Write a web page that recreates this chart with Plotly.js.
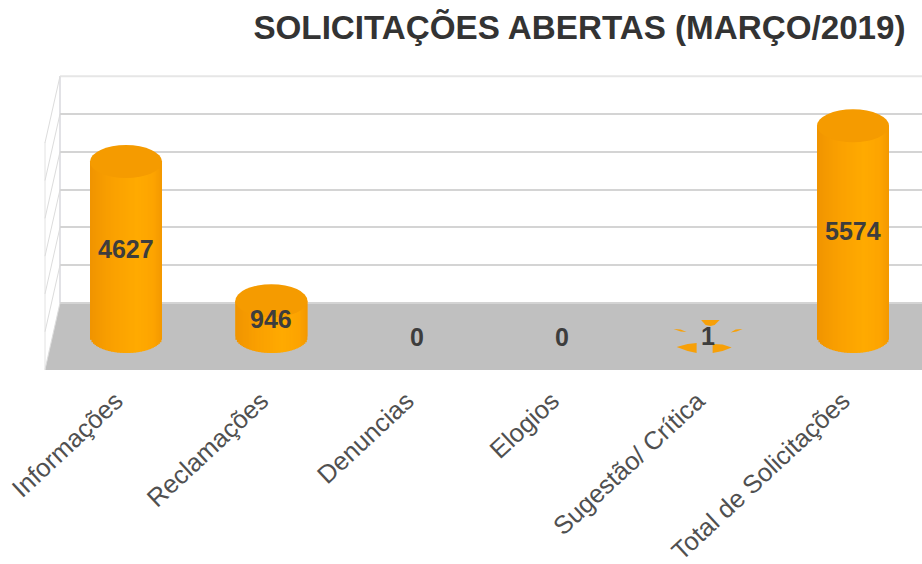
<!DOCTYPE html>
<html><head><meta charset="utf-8">
<script src="https://cdn.plot.ly/plotly-3.0.1.min.js"></script>
<style>html,body{margin:0;padding:0;background:#fff}#c{width:922px;height:564px}</style></head>
<body><div id="c"></div>
<script>
const categories = ["Informações","Reclamações","Denuncias","Elogios","Sugestão/ Crítica","Total de Solicitações"];
const values = [4627,946,0,0,1,5574];
const wallLevels = [0,1000,2000,3000,4000,5000,6000];
const chartTitle = "SOLICITAÇÕES ABERTAS (MARÇO/2019)";

const W=922,H=564,L=60,T=70,B=184;
const pxPerUnit=0.0378, pxPerCat=145.4, firstCatPx=126, zeroPx=336.5;
const plotH=H-T-B, plotW=W-L;
const yTop=(zeroPx-T)/pxPerUnit, yBot=-(T+plotH-zeroPx)/pxPerUnit;
const xLow=(L-firstCatPx)/pxPerCat, xHigh=(W-firstCatPx)/pxPerCat;
const rx=36/pxPerCat, ry=16.5/pxPerUnit;
const wallOffset=(zeroPx-303)/pxPerUnit;
const px=v=>(v-L)/plotW, py=v=>1-(v-T)/plotH;
const font="'Liberation Sans',Arial,sans-serif";

// cylinder shading, left to right
const stops=[[0,[240,148,0]],[0.3,[250,160,0]],[0.65,[255,170,0]],[0.88,[253,164,0]],[1,[243,152,0]]];
function shade(t){
  for(let k=1;k<stops.length;k++){
    if(t<=stops[k][0]){
      const a=stops[k-1],b=stops[k],f=(t-a[0])/(b[0]-a[0]);
      return "rgb("+a[1].map((c,j)=>Math.round(c+(b[1][j]-c)*f)).join(",")+")";
    }
  }
  return "rgb(243,152,0)";
}
const idx=categories.map((_,i)=>i);
const traces=[{type:"bar",x:idx,y:values,width:2*rx,marker:{color:"#fa9f00",line:{width:0}},hoverinfo:"skip",showlegend:false}];
const N=48, sw=2*rx/N;
for(let s=0;s<N;s++){
  const u=(-1+(2*s+1)/N), drop=ry*Math.sqrt(Math.max(0,1-u*u));
  traces.push({type:"bar",x:idx,
    y:values.map(v=>v>1?v+drop:null),
    base:values.map(()=>-drop),
    offset:-rx+s*sw, width:sw*(s<N-1?1.6:1),
    marker:{color:shade((s+0.5)/N),line:{width:0}},hoverinfo:"skip",showlegend:false});
}

// small leftovers of the flat cylinder around the "1" label, in pixels from its centre
const crumbs=[
 [[-6.5,-16.5],[12,-16.5],[7,-11.5],[3,-10.5],[-2,-11.5]],
 [[-34,-7.5],[-27,-7],[-21,-4.5],[-27,-5]],
 [[35,-7.5],[28,-7],[23,-4],[29,-5]],
 [[-31,10.5],[-20,7.5],[-11,6.5],[-11,16.5],[-20,14.5]],
 [[24,11],[15,8],[5,7.5],[5,16.5],[15,14.5]]
];
const crumbIndex=values.indexOf(1);
const crumbShapes=crumbs.map(c=>({type:"path",xref:"x",yref:"y",layer:"above",fillcolor:"#f7a008",line:{width:0},
  path:c.map((p,k)=>(k?"L":"M")+(crumbIndex+p[0]/pxPerCat)+","+(-p[1]/pxPerUnit)).join(" ")+" Z"}));

const gridCol="#d4d4d4";
const shapes=[
 {type:"path",xref:"paper",yref:"paper",layer:"between",fillcolor:"#c0c0c0",line:{width:0},
  path:`M${px(60)},${py(303)} L${px(922)},${py(303)} L${px(922)},${py(370)} L${px(45)},${py(370)} Z`},
 {type:"line",xref:"paper",yref:"paper",layer:"below",x0:px(60),x1:px(60),y0:py(76),y1:py(303),line:{color:"#d8d8de",width:1.5}},
 {type:"line",xref:"paper",yref:"paper",layer:"below",x0:px(45),x1:px(45),y0:py(142),y1:py(370),line:{color:"#e2e2e2",width:1}},
 {type:"line",xref:"paper",yref:"paper",layer:"between",x0:px(60),x1:px(922),y0:py(76.2),y1:py(76.2),line:{color:"#e6e6e6",width:2}}
];
wallLevels.forEach(v=>{
  const y=zeroPx-(v+wallOffset)*pxPerUnit;
  shapes.push({type:"line",xref:"paper",yref:"paper",layer:"below",x0:px(60),x1:px(45),y0:py(y),y1:py(y+66.5),line:{color:"#dcdcdc",width:1}});
});
values.forEach((v,i)=>{
  if(v>1) shapes.push({type:"circle",xref:"x",yref:"y",layer:"above",x0:i-rx,x1:i+rx,y0:v-ry,y1:v+ry,fillcolor:"#f59b00",line:{width:0}});
});
crumbShapes.forEach(c=>shapes.push(c));

const annotations=values.map((v,i)=>({x:i,y:v/2,xref:"x",yref:"y",text:String(v),showarrow:false,
  font:{family:font,size:25,color:"#3d3d3d",weight:700},xanchor:"center",yanchor:"middle"}));

const layout={
  width:W,height:H,margin:{l:L,r:0,t:T,b:B,pad:0},paper_bgcolor:"#fff",plot_bgcolor:"#fff",
  barmode:"overlay",showlegend:false,
  title:{text:"<b>"+chartTitle+"</b>",x:579.5/W,xanchor:"center",xref:"container",y:1-27/H,yanchor:"middle",
    font:{family:font,size:33.2,color:"#333333"}},
  xaxis:{range:[xLow,xHigh],tickmode:"array",tickvals:idx,ticktext:categories,tickangle:-43,ticks:"",showgrid:false,zeroline:false,showline:false,
    ticklabelshift:-10,
    tickfont:{family:font,size:25.5,color:"#505050"},automargin:false},
  yaxis:{range:[yBot,yTop],tickmode:"array",tickvals:wallLevels.slice(0,-1).map(v=>v+wallOffset),showticklabels:false,ticks:"",
    showgrid:true,gridcolor:gridCol,gridwidth:2,zeroline:false,showline:false,automargin:false},
  shapes,annotations
};
Plotly.newPlot("c",traces,layout,{displayModeBar:false,staticPlot:true});
</script></body></html>
